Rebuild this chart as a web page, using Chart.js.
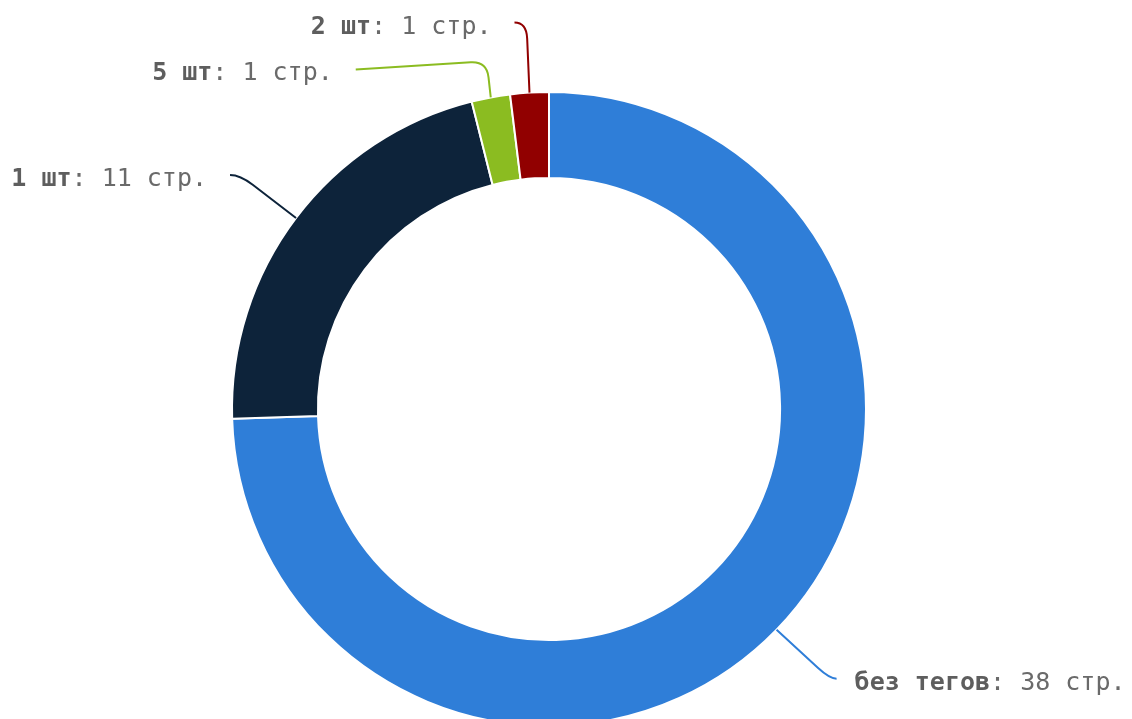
<!DOCTYPE html>
<html>
<head>
<meta charset="utf-8">
<script src="https://cdn.jsdelivr.net/npm/chart.js@4.4.1/dist/chart.umd.min.js"></script>
<style>
  html, body { margin:0; padding:0; background:#fff; }
  #wrap { width:1132px; height:719px; position:relative; overflow:hidden; }
</style>
</head>
<body>
<div id="wrap"><canvas id="tags"></canvas></div>
<script>
// pages grouped by number of tags
const TAG_GROUPS = ['без тегов', '1 шт', '5 шт', '2 шт'];
const PAGE_COUNTS = [38, 11, 1, 1];
const UNIT = 'стр.';

const SLICE_COLORS = ['#2f7ed8', '#0d233a', '#8bbc21', '#910000'];

// connector geometry per slice, offsets from the slice's outer midpoint:
// corner = where the line bends, end = where it meets the label
const LEADERS = [
  { corner:[53, 49],   end:[60, 49] },
  { corner:[-56, -43], end:[-66, -43] },
  { corner:[-4, -36],  end:[-135, -28] },
  { corner:[-3, -70],  end:[-15, -70] },
];

const FONT_FAMILY = '"DejaVu Sans Mono", monospace';
const FONT_SIZE = 25;

const leaderLabels = {
  id: 'leaderLabels',
  afterDraw(chart) {
    const ctx = chart.ctx;
    const meta = chart.getDatasetMeta(0);
    meta.data.forEach((arc, i) => {
      const p = arc.getProps(['x', 'y', 'startAngle', 'endAngle', 'outerRadius'], true);
      const mid = (p.startAngle + p.endAngle) / 2;
      const ax = p.x + Math.cos(mid) * p.outerRadius;
      const ay = p.y + Math.sin(mid) * p.outerRadius;
      const L = LEADERS[i];
      const cx = ax + L.corner[0], cy = ay + L.corner[1];
      const ex = ax + L.end[0], ey = ay + L.end[1];

      // rounded bend: straight in, curve through the corner, straight out
      const d1 = Math.hypot(ax - cx, ay - cy), d2 = Math.hypot(ex - cx, ey - cy);
      const r1 = Math.min(16, d1), r2 = Math.min(16, d2);
      const p1x = cx + (ax - cx) / d1 * r1, p1y = cy + (ay - cy) / d1 * r1;
      const p2x = cx + (ex - cx) / d2 * r2, p2y = cy + (ey - cy) / d2 * r2;

      ctx.save();
      ctx.strokeStyle = SLICE_COLORS[i];
      ctx.lineWidth = 2;
      ctx.beginPath();
      ctx.moveTo(ax, ay);
      ctx.lineTo(p1x, p1y);
      ctx.quadraticCurveTo(cx, cy, p2x, p2y);
      ctx.lineTo(ex, ey);
      ctx.stroke();

      const head = TAG_GROUPS[i];
      const tail = ': ' + PAGE_COUNTS[i] + ' ' + UNIT;
      const boldFont = 'bold ' + FONT_SIZE + 'px ' + FONT_FAMILY;
      const normFont = FONT_SIZE + 'px ' + FONT_FAMILY;
      ctx.font = boldFont;
      const wHead = ctx.measureText(head).width;
      ctx.font = normFont;
      const wTail = ctx.measureText(tail).width;
      const leftSide = ex < ax;
      const tx = leftSide ? ex - 23 - wHead - wTail : ex + 18;
      const ty = ey + 11;
      ctx.textBaseline = 'alphabetic';
      ctx.textAlign = 'left';
      ctx.font = boldFont;
      ctx.fillStyle = '#5e5e5e';
      ctx.fillText(head, tx, ty);
      ctx.font = normFont;
      ctx.fillStyle = '#6a6a6a';
      ctx.fillText(tail, tx + wHead, ty);
      ctx.restore();
    });
  }
};

new Chart(document.getElementById('tags'), {
  type: 'doughnut',
  data: {
    labels: TAG_GROUPS,
    datasets: [{
      data: PAGE_COUNTS,
      backgroundColor: SLICE_COLORS,
      borderColor: '#ffffff',
      borderWidth: 2,
      hoverOffset: 0,
    }]
  },
  options: {
    responsive: true,
    maintainAspectRatio: false,
    animation: false,
    radius: 317,
    cutout: '72.9%',
    layout: { padding: { left: 0, right: 34, top: 99, bottom: 0 } },
    plugins: {
      legend: { display: false },
      tooltip: { enabled: false },
    }
  },
  plugins: [leaderLabels]
});
</script>
</body>
</html>
